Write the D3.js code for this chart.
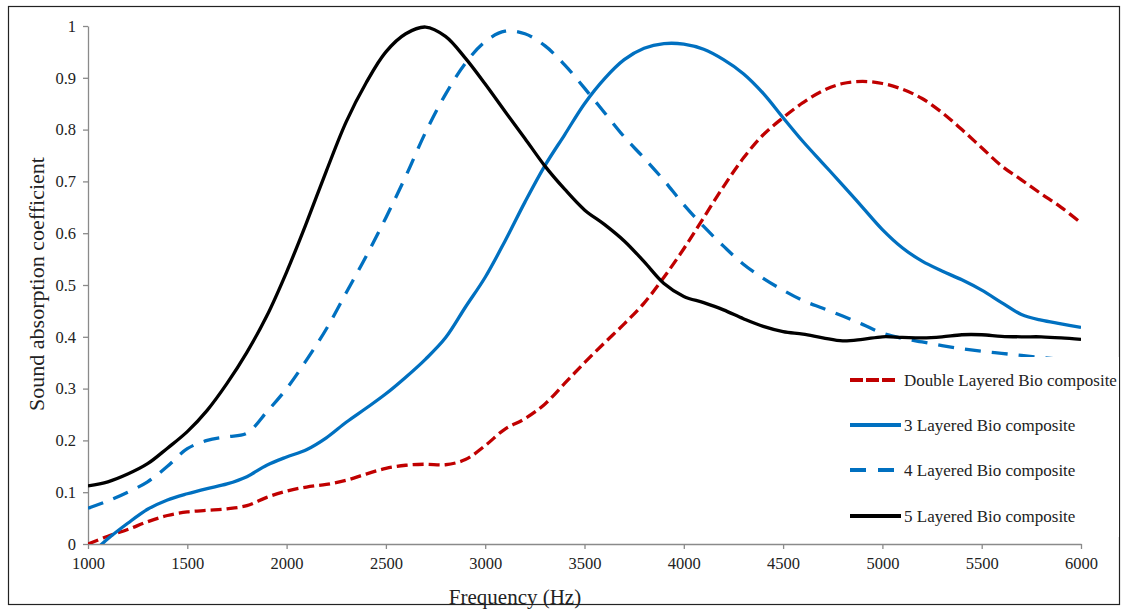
<!DOCTYPE html>
<html><head><meta charset="utf-8">
<script src="https://cdn.jsdelivr.net/npm/d3@7/dist/d3.min.js"></script>
<style>body{margin:0;background:#fff}svg{display:block}text{font-family:"Liberation Serif","Times New Roman",serif}</style>
</head><body><svg id="c" width="1125" height="611"></svg>
<script>
const freqs = [1000,1100,1200,1300,1400,1500,1600,1700,1800,1900,2000,2100,2200,2300,2400,2500,2600,2700,2800,2900,3000,3100,3200,3300,3400,3500,3600,3700,3800,3900,4000,4100,4200,4300,4400,4500,4600,4700,4800,4900,5000,5100,5200,5300,5400,5500,5600,5700,5800,5900,6000];
const doubleLayer = [0.0,0.015,0.028,0.043,0.055,0.062,0.065,0.068,0.074,0.09,0.102,0.11,0.115,0.123,0.135,0.146,0.152,0.154,0.153,0.163,0.19,0.222,0.242,0.27,0.31,0.35,0.388,0.425,0.465,0.515,0.57,0.63,0.69,0.745,0.79,0.823,0.852,0.875,0.889,0.893,0.889,0.878,0.86,0.833,0.8,0.765,0.73,0.703,0.676,0.65,0.62];
const threeLayer = [-0.025,0.01,0.04,0.067,0.085,0.097,0.107,0.116,0.13,0.152,0.168,0.182,0.205,0.235,0.262,0.29,0.322,0.357,0.398,0.457,0.515,0.585,0.66,0.73,0.79,0.85,0.898,0.935,0.957,0.966,0.965,0.955,0.935,0.908,0.87,0.823,0.777,0.735,0.693,0.65,0.607,0.572,0.546,0.527,0.51,0.49,0.466,0.443,0.432,0.425,0.418];
const fourLayer = [0.069,0.083,0.1,0.12,0.15,0.184,0.2,0.207,0.214,0.255,0.3,0.355,0.415,0.485,0.555,0.63,0.71,0.795,0.868,0.928,0.97,0.99,0.985,0.962,0.925,0.88,0.833,0.786,0.745,0.702,0.655,0.613,0.575,0.54,0.513,0.49,0.47,0.455,0.44,0.424,0.407,0.397,0.39,0.383,0.377,0.372,0.368,0.364,0.36,0.357,0.355];
const fiveLayer = [0.112,0.12,0.135,0.155,0.185,0.217,0.258,0.31,0.37,0.44,0.525,0.62,0.72,0.815,0.89,0.95,0.985,0.998,0.98,0.938,0.888,0.835,0.783,0.73,0.685,0.645,0.617,0.585,0.545,0.503,0.478,0.466,0.452,0.435,0.42,0.41,0.405,0.398,0.392,0.395,0.4,0.399,0.398,0.4,0.404,0.404,0.401,0.4,0.4,0.398,0.395];
const seriesNames = ["Double Layered Bio composite","3 Layered Bio composite","4 Layered Bio composite","5 Layered Bio composite"];
const xTicks = [1000,1500,2000,2500,3000,3500,4000,4500,5000,5500,6000];
const yTicks = [0,0.1,0.2,0.3,0.4,0.5,0.6,0.7,0.8,0.9,1];

const svg = d3.select("#c");
const x = d3.scaleLinear().domain([1000,6000]).range([88,1081]);
const y = d3.scaleLinear().domain([0,1]).range([544,26]);

svg.append("rect").attr("x",8.5).attr("y",6.5).attr("width",1111).attr("height",598)
  .attr("fill","#fff").attr("stroke","#222").attr("stroke-width",1.2);

svg.append("defs").append("clipPath").attr("id","clip").append("rect")
  .attr("x",88).attr("y",0).attr("width",993).attr("height",544);

const xAxis = svg.append("g").attr("transform","translate(0,544)")
  .call(d3.axisBottom(x).tickValues(xTicks).tickFormat(d3.format("d")).tickSize(5).tickSizeOuter(0));
const yAxis = svg.append("g").attr("transform","translate(88,0)")
  .call(d3.axisLeft(y).tickValues(yTicks).tickFormat(d=>String(d)).tickSize(5).tickSizeOuter(0));
[xAxis,yAxis].forEach(g=>{
  g.select(".domain").attr("stroke","#8a8a8a").attr("stroke-width",1.3);
  g.selectAll(".tick line").attr("stroke","#8a8a8a").attr("stroke-width",1.3);
  g.selectAll("text").attr("font-family","Liberation Serif").attr("font-size",16.5).attr("fill","#222");
});
xAxis.selectAll("text").attr("dy","1.0em");
yAxis.selectAll("text").attr("dx","-4");

svg.append("text").attr("x",515).attr("y",604).attr("text-anchor","middle")
  .attr("font-size",21).attr("fill","#222").text("Frequency (Hz)");
svg.append("text").attr("transform","translate(44,284) rotate(-90)").attr("text-anchor","middle")
  .attr("font-size",22).attr("fill","#222").text("Sound absorption coefficient");

const styles = [
  {data:doubleLayer,color:"#C00000",dash:"11,5"},
  {data:threeLayer,color:"#0070C0",dash:null},
  {data:fourLayer,color:"#0070C0",dash:"16,11"},
  {data:fiveLayer,color:"#000000",dash:null}
];
const line = d3.line().x((d,i)=>x(freqs[i])).y(d=>y(d)).curve(d3.curveCatmullRom.alpha(0.5));
const plot = svg.append("g").attr("clip-path","url(#clip)");
styles.forEach(s=>{
  plot.append("path").attr("d",line(s.data)).attr("fill","none")
    .attr("stroke",s.color).attr("stroke-width",3.3)
    .attr("stroke-dasharray",s.dash).attr("stroke-linejoin","round");
});

// legend
const lg = svg.append("g");
lg.append("rect").attr("x",840).attr("y",357).attr("width",279).attr("height",180).attr("fill","#fff");
const ly = [380,425,470,516];
styles.forEach((s,i)=>{
  lg.append("line").attr("x1",850).attr("x2",s.dash ? 895 : 901).attr("y1",ly[i]).attr("y2",ly[i])
    .attr("stroke",s.color).attr("stroke-width",3.8).attr("stroke-dasharray",s.dash ? (i===0?"13,3":"16,12") : null);
  lg.append("text").attr("x",904).attr("y",ly[i]+5.5).attr("font-size",17).attr("fill","#222").text(seriesNames[i]);
});
</script></body></html>
